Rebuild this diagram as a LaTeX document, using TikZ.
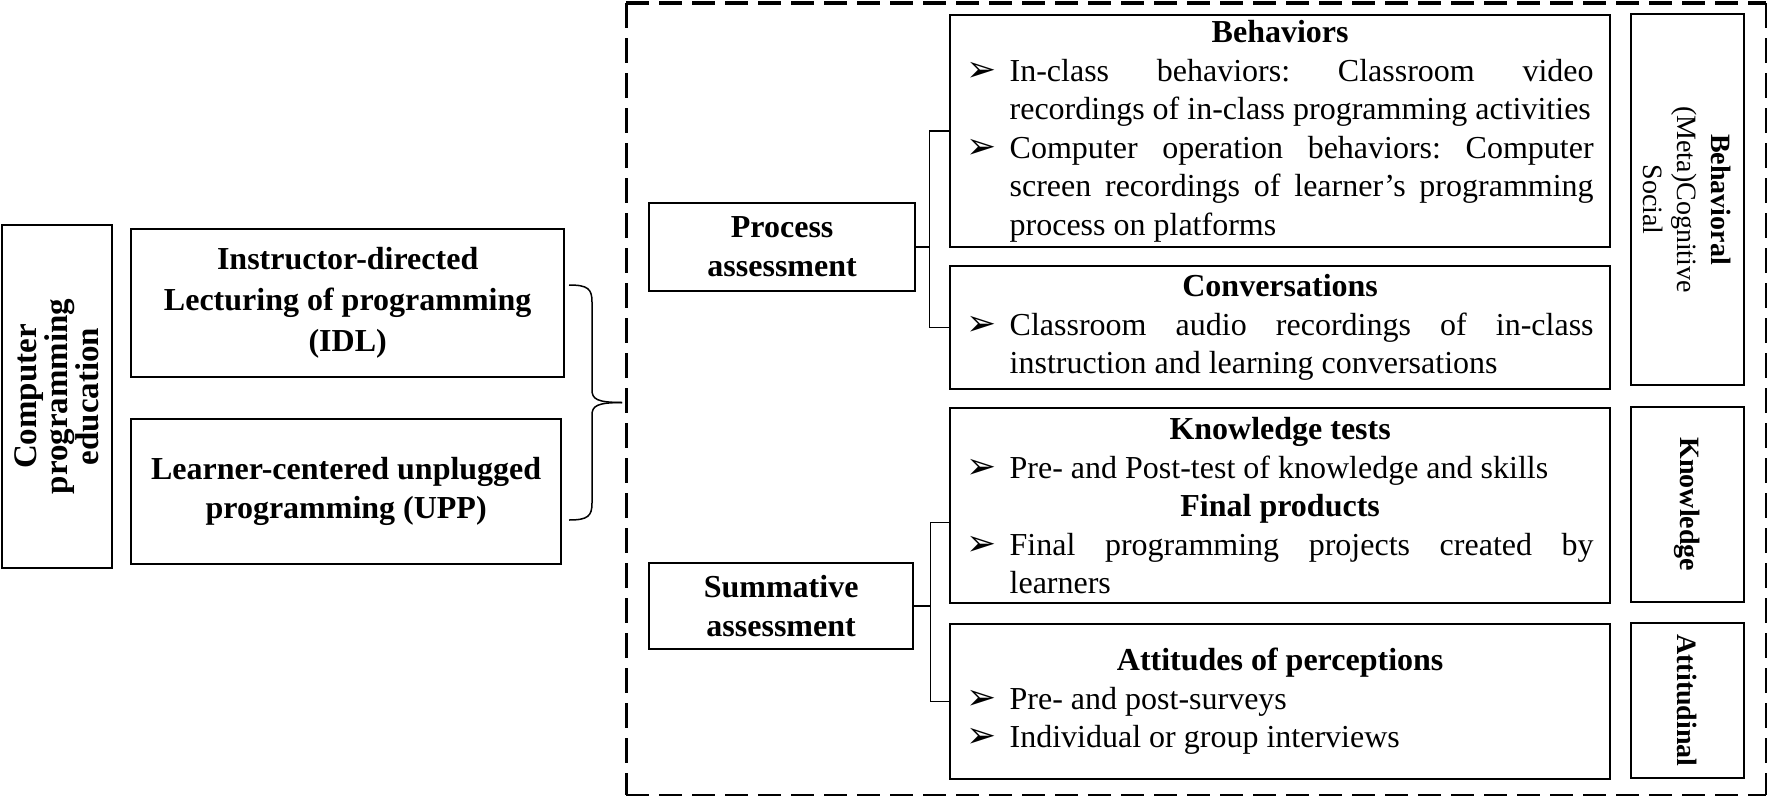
\documentclass[tikz,border=0pt]{standalone}
\usepackage{fontspec}
\setmainfont{Liberation Serif}
\newfontfamily\bulfont{DejaVu Sans}

\newcommand\bodyfont{\fontsize{32}{38.5}\selectfont}
\newcommand\jset{\leftskip=0pt\rightskip=0pt\parfillskip=0pt plus 1fil\parindent=0pt\frenchspacing\hyphenpenalty=10000\exhyphenpenalty=10000\tolerance=9999\emergencystretch=0pt}
\newcommand\ttl[1]{{\leftskip=0pt plus 1fil\rightskip=0pt plus 1fil\parfillskip=0pt\bfseries #1\par}}
\newcommand\bitem[1]{\hangindent=43pt\hangafter=1\noindent\hbox to 43pt{\bulfont\fontsize{36}{36}\selectfont ➢\hfil}#1\par}

\tikzset{
  frame/.style={draw, line width=2.3pt, inner sep=0pt},
  lab/.style={frame, align=center},
  content/.style={frame, text width=627pt, inner xsep=16.5pt, inner ysep=0pt,
    minimum width=660pt, align=justify, font=\bodyfont, anchor=north west},
  conn/.style={line width=1.5pt},
}

\begin{document}
\begin{tikzpicture}[x=1pt, y=-1pt]
\useasboundingbox (0,0) rectangle (1771,798);

% dashed frame
\coordinate (dtl) at (626,3);
\coordinate (dtr) at (1766,3);
\coordinate (dbl) at (626,795);
\coordinate (dbr) at (1766,795);
\draw[line width=4.5pt, dash pattern=on 23pt off 10pt] (dtl) -- (dtr);
\draw[line width=3pt, dash pattern=on 25pt off 10pt] (dtl) -- (dbl);
\draw[line width=2.5pt, dash pattern=on 23pt off 10pt] (dbl) -- (dbr);
\draw[line width=2.5pt, dash pattern=on 25pt off 10pt] (dtr) -- (dbr);

% left column
\node[lab, rotate=90, minimum width=343pt, minimum height=110pt,
  font=\bfseries\fontsize{33}{31}\selectfont] (cpe) at (57,396.5)
  {Computer\\programming\\education};
\node[lab, anchor=north west, minimum width=433pt, minimum height=148pt,
  font=\bfseries\fontsize{32}{41}\selectfont] (idl) at (130,228)
  {Instructor-directed\\Lecturing of programming\\(IDL)};
\node[lab, anchor=north west, minimum width=430pt, minimum height=145pt,
  font=\bfseries\fontsize{32}{39}\selectfont] (upp) at (130,418)
  {Learner-centered unplugged\\programming (UPP)};

% brace
\coordinate (bt) at (569,285);
\coordinate (bm) at (622,402.5);
\coordinate (bb) at (569,520);
\draw[conn] (bt) .. controls (588,285) and (592,289) .. (592,302) -- (592,390)
  .. controls (592,399) and (597,402.5) .. (bm);
\draw[conn] (bb) .. controls (588,520) and (592,516) .. (592,503) -- (592,415)
  .. controls (592,406) and (597,402.5) .. (bm);

% assessment boxes
\node[lab, anchor=north west, minimum width=266pt, minimum height=88pt,
  font=\bfseries\fontsize{32}{39}\selectfont] (proc) at (648,202)
  {Process\\assessment};
\node[lab, anchor=north west, minimum width=264pt, minimum height=86pt,
  font=\bfseries\fontsize{32}{39}\selectfont] (summ) at (648,562)
  {Summative\\assessment};

% content boxes
\node[content, minimum height=232pt] (beh) at (949,14) {\jset
  \ttl{Behaviors}
  \bitem{In-class behaviors: Classroom video\linebreak recordings of in-class programming activities}
  \bitem{Computer operation behaviors: Computer\linebreak screen recordings of learner’s programming\linebreak process on platforms}};
\node[content, minimum height=123pt] (conv) at (949,265) {\jset
  \ttl{Conversations}
  \bitem{Classroom audio recordings of in-class\linebreak instruction and learning conversations}};
\node[content, minimum height=195pt] (kn) at (949,407) {\jset
  \ttl{Knowledge tests}
  \bitem{Pre- and Post-test of knowledge and skills}
  \ttl{Final products}
  \bitem{Final programming projects created by\linebreak learners}};
\node[content, minimum height=155pt] (att) at (949,623) {\jset
  \ttl{Attitudes of perceptions}
  \bitem{Pre- and post-surveys}
  \bitem{Individual or group interviews}};

% right labels
\node[lab, rotate=-90, minimum width=371pt, minimum height=113pt,
  font=\fontsize{28}{34}\selectfont] (rbeh) at (1687.5,199.5)
  {\textbf{Behavioral}\\(Meta)Cognitive\\Social};
\node[lab, rotate=-90, minimum width=195pt, minimum height=113pt,
  font=\bfseries\fontsize{28}{34}\selectfont] (rkn) at (1687.5,504.5)
  {Knowledge};
\node[lab, rotate=-90, minimum width=155pt, minimum height=113pt,
  font=\bfseries\fontsize{28}{34}\selectfont] (ratt) at (1687.5,700.5)
  {Attitudinal};

% connectors
\coordinate (pj) at ([xshift=13pt]proc.east);
\draw[conn] (proc.east) -- (pj);
\draw[conn] (beh.west) -| (pj) |- (conv.west);
\coordinate (sj) at ([xshift=16pt]summ.east);
\draw[conn] (summ.east) -- (sj);
\draw[conn] ([yshift=-17pt]kn.west) -| (sj) |- (att.west);
\end{tikzpicture}
\end{document}
